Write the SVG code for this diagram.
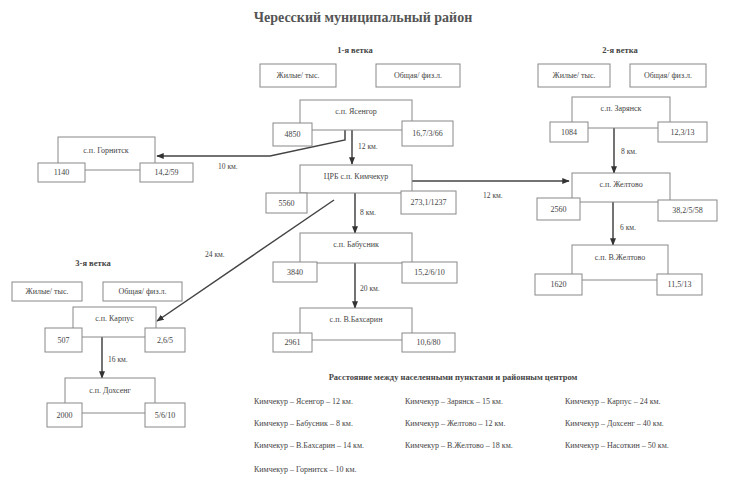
<svg xmlns="http://www.w3.org/2000/svg" width="729" height="477" viewBox="0 0 729 477">
<defs>
<marker id="ah" viewBox="0 0 10 10" refX="9" refY="5" markerWidth="5" markerHeight="5" orient="auto"><path d="M0,1 L10,5 L0,9 z" fill="#333"/></marker>
<style>
.bx{fill:#fff;stroke:#888;stroke-width:1}
.t{font-family:"Liberation Serif",serif;font-size:8px;fill:#444;text-anchor:middle;dominant-baseline:central}
.h{font-family:"Liberation Serif",serif;font-size:8.5px;font-weight:bold;fill:#444;text-anchor:middle}
.c{fill:none;stroke:#444;stroke-width:1.5}
.l{font-family:"Liberation Serif",serif;font-size:7.5px;fill:#444}
.lg{font-family:"Liberation Serif",serif;font-size:8px;fill:#444}
</style>
</defs>
<rect width="729" height="477" fill="#fff"/>
<text x="363" y="22" font-family="Liberation Serif,serif" font-size="14" font-weight="bold" fill="#555" text-anchor="middle">Чересский муниципальный район</text>

<g id="branch1-header">
<text class="h" x="355" y="53">1-я ветка</text>
<rect class="bx" x="260" y="64" width="76" height="23"/><text class="t" x="298" y="75.5">Жилые/ тыс.</text>
<rect class="bx" x="376" y="64" width="84" height="23"/><text class="t" x="418" y="75.5">Общая/ физ.л.</text>
</g>
<g id="branch2-header">
<text class="h" x="620" y="53">2-я ветка</text>
<rect class="bx" x="538" y="64" width="72" height="23"/><text class="t" x="574" y="75.5">Жилые/ тыс.</text>
<rect class="bx" x="630" y="64" width="76" height="23"/><text class="t" x="668" y="75.5">Общая/ физ.л.</text>
</g>
<g id="branch3-header">
<text class="h" x="93" y="266">3-я ветка</text>
<rect class="bx" x="12" y="282" width="70" height="19"/><text class="t" x="47" y="291.5">Жилые/ тыс.</text>
<rect class="bx" x="103" y="282" width="79" height="19"/><text class="t" x="142.5" y="291.5">Общая/ физ.л.</text>
</g>

<g id="connectors">
<line class="c" x1="352" y1="130" x2="352" y2="164" marker-end="url(#ah)"/>
<polyline class="c" points="345,130 345,140 270,156 157,156" marker-end="url(#ah)"/>
<line class="c" x1="412" y1="181" x2="569" y2="181" marker-end="url(#ah)"/>
<line class="c" x1="355" y1="193" x2="355" y2="233" marker-end="url(#ah)"/>
<line class="c" x1="355" y1="263" x2="355" y2="308" marker-end="url(#ah)"/>
<line class="c" x1="334" y1="200" x2="157" y2="321" marker-end="url(#ah)"/>
<line class="c" x1="614" y1="128" x2="614" y2="173" marker-end="url(#ah)"/>
<line class="c" x1="613" y1="202" x2="613" y2="245" marker-end="url(#ah)"/>
<line class="c" x1="102" y1="337" x2="102" y2="378" marker-end="url(#ah)"/>
<text class="l" x="358" y="149">12 км.</text>
<text class="l" x="218" y="169">10 км.</text>
<text class="l" x="483" y="198">12 км.</text>
<text class="l" x="360" y="215">8 км.</text>
<text class="l" x="360" y="291">20 км.</text>
<text class="l" x="205" y="257">24 км.</text>
<text class="l" x="621" y="154">8 км.</text>
<text class="l" x="620" y="230">6 км.</text>
<text class="l" x="108" y="362">16 км.</text>
</g>

<g id="n-yasengor">
<rect class="bx" x="300" y="100" width="112" height="30"/><text class="t" x="356" y="111">с.п. Ясенгор</text>
<rect class="bx" x="273" y="123" width="39" height="23"/><text class="t" x="292.5" y="134.5">4850</text>
<rect class="bx" x="402" y="121" width="51" height="25"/><text class="t" x="427.5" y="133.5">16,7/3/66</text>
</g>
<g id="n-center">
<rect class="bx" x="300" y="165" width="112" height="28"/><text class="t" x="356" y="176">ЦРБ с.п. Кимчекур</text>
<rect class="bx" x="266" y="193" width="41" height="20"/><text class="t" x="286.5" y="203">5560</text>
<rect class="bx" x="401" y="191" width="55" height="23"/><text class="t" x="428.5" y="202.5">273,1/1237</text>
</g>
<g id="n-gornitsk">
<rect class="bx" x="58" y="137" width="97" height="33"/><text class="t" x="106" y="150">с.п. Горнитск</text>
<rect class="bx" x="38" y="163" width="47" height="19"/><text class="t" x="61.5" y="172.5">1140</text>
<rect class="bx" x="140" y="163" width="53" height="19"/><text class="t" x="166.5" y="172.5">14,2/59</text>
</g>
<g id="n-zaryansk">
<rect class="bx" x="572" y="97" width="98" height="31"/><text class="t" x="621" y="108">с.п. Зарянск</text>
<rect class="bx" x="550" y="122" width="38" height="20"/><text class="t" x="569" y="132">1084</text>
<rect class="bx" x="658" y="122" width="49" height="20"/><text class="t" x="682.5" y="132">12,3/13</text>
</g>
<g id="n-zheltovo">
<rect class="bx" x="572" y="173" width="98" height="29"/><text class="t" x="621" y="184">с.п. Желтово</text>
<rect class="bx" x="537" y="198" width="43" height="22"/><text class="t" x="558.5" y="209">2560</text>
<rect class="bx" x="658" y="200" width="59" height="21"/><text class="t" x="687.5" y="210.5">38,2/5/58</text>
</g>
<g id="n-vzheltovo">
<rect class="bx" x="572" y="245" width="96" height="35"/><text class="t" x="620" y="257">с.п. В.Желтово</text>
<rect class="bx" x="535" y="274" width="47" height="21"/><text class="t" x="558.5" y="284.5">1620</text>
<rect class="bx" x="657" y="274" width="45" height="21"/><text class="t" x="679.5" y="284.5">11,5/13</text>
</g>
<g id="n-babusnik">
<rect class="bx" x="300" y="233" width="112" height="30"/><text class="t" x="356" y="244">с.п. Бабусник</text>
<rect class="bx" x="273" y="262" width="44" height="20"/><text class="t" x="295" y="272">3840</text>
<rect class="bx" x="402" y="262" width="55" height="21"/><text class="t" x="429.5" y="272.5">15,2/6/10</text>
</g>
<g id="n-vbakhsarin">
<rect class="bx" x="300" y="308" width="112" height="32"/><text class="t" x="356" y="319">с.п. В.Бахсарин</text>
<rect class="bx" x="273" y="333" width="39" height="19"/><text class="t" x="292.5" y="342.5">2961</text>
<rect class="bx" x="402" y="333" width="53" height="19"/><text class="t" x="428.5" y="342.5">10,6/80</text>
</g>
<g id="n-karpus">
<rect class="bx" x="73" y="307" width="83" height="30"/><text class="t" x="114.5" y="318">с.п. Карпус</text>
<rect class="bx" x="45" y="328" width="37" height="24"/><text class="t" x="63.5" y="340">507</text>
<rect class="bx" x="145" y="328" width="40" height="24"/><text class="t" x="165" y="340">2,6/5</text>
</g>
<g id="n-dokhseng">
<rect class="bx" x="65" y="378" width="90" height="35"/><text class="t" x="110" y="390">с.п. Дохсенг</text>
<rect class="bx" x="47" y="403" width="35" height="24"/><text class="t" x="64.5" y="415">2000</text>
<rect class="bx" x="145" y="403" width="40" height="24"/><text class="t" x="165" y="415">5/6/10</text>
</g>

<g id="legend">
<text x="453" y="380" font-family="Liberation Serif,serif" font-size="8.5" font-weight="bold" fill="#444" text-anchor="middle">Расстояние между населенными пунктами и районным центром</text>
<text class="lg" x="254" y="404">Кимчекур – Ясенгор – 12 км.</text>
<text class="lg" x="405" y="404">Кимчекур – Зарянск – 15 км.</text>
<text class="lg" x="565" y="404">Кимчекур – Карпус – 24 км.</text>
<text class="lg" x="254" y="426">Кимчекур – Бабусник – 8 км.</text>
<text class="lg" x="405" y="426">Кимчекур – Желтово – 12 км.</text>
<text class="lg" x="565" y="426">Кимчекур – Дохсенг – 40 км.</text>
<text class="lg" x="254" y="448">Кимчекур – В.Бахсарин – 14 км.</text>
<text class="lg" x="405" y="448">Кимчекур – В.Желтово – 18 км.</text>
<text class="lg" x="565" y="448">Кимчекур – Насоткин – 50 км.</text>
<text class="lg" x="254" y="472">Кимчекур – Горнитск – 10 км.</text>
</g>
</svg>
